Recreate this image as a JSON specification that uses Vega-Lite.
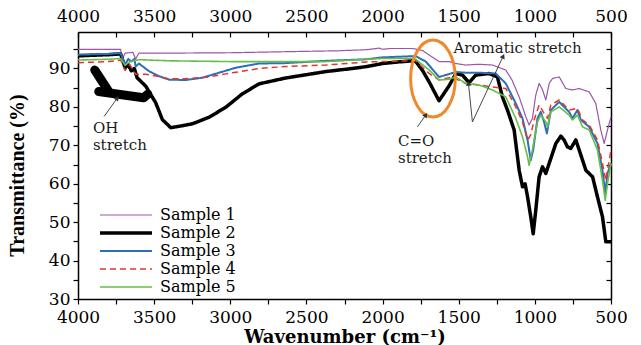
{
  "$schema": "https://vega.github.io/schema/vega-lite/v6.json",
  "width": 533,
  "height": 267,
  "autosize": {"type": "none"},
  "padding": {"left": 78, "top": 32, "right": 30, "bottom": 46},
  "background": "white",
  "config": {
    "view": {"stroke": null},
    "axis": {"grid": false, "domainColor": "black", "domainWidth": 1.5, "tickColor": "black", "tickWidth": 1.2, "labelColor": "black", "labelFont": "DejaVu Serif", "labelFontSize": 17, "titleColor": "black"}
  },
  "datasets": {
    "spectra": [
      {"s": "Sample 1", "wn": 4000, "t": 95.0}, {"s": "Sample 1", "wn": 3800, "t": 95.0}, {"s": "Sample 1", "wn": 3720, "t": 95.0}, {"s": "Sample 1", "wn": 3711, "t": 92.3}, {"s": "Sample 1", "wn": 3690, "t": 94.0}, {"s": "Sample 1", "wn": 3640, "t": 94.2}, {"s": "Sample 1", "wn": 3621, "t": 92.5}, {"s": "Sample 1", "wn": 3600, "t": 94.0}, {"s": "Sample 1", "wn": 3400, "t": 94.0}, {"s": "Sample 1", "wn": 3000, "t": 94.1}, {"s": "Sample 1", "wn": 2600, "t": 94.4}, {"s": "Sample 1", "wn": 2300, "t": 94.6}, {"s": "Sample 1", "wn": 2100, "t": 94.9}, {"s": "Sample 1", "wn": 2023, "t": 95.3}, {"s": "Sample 1", "wn": 2000, "t": 95.0}, {"s": "Sample 1", "wn": 1950, "t": 95.2}, {"s": "Sample 1", "wn": 1804, "t": 95.2}, {"s": "Sample 1", "wn": 1738, "t": 94.7}, {"s": "Sample 1", "wn": 1694, "t": 93.5}, {"s": "Sample 1", "wn": 1629, "t": 91.8}, {"s": "Sample 1", "wn": 1563, "t": 91.8}, {"s": "Sample 1", "wn": 1519, "t": 91.3}, {"s": "Sample 1", "wn": 1454, "t": 90.9}, {"s": "Sample 1", "wn": 1366, "t": 91.1}, {"s": "Sample 1", "wn": 1278, "t": 90.9}, {"s": "Sample 1", "wn": 1191, "t": 89.6}, {"s": "Sample 1", "wn": 1150, "t": 87.0}, {"s": "Sample 1", "wn": 1103, "t": 82.6}, {"s": "Sample 1", "wn": 1059, "t": 77.4}, {"s": "Sample 1", "wn": 1038, "t": 75.3}, {"s": "Sample 1", "wn": 1016, "t": 77.0}, {"s": "Sample 1", "wn": 994, "t": 83.1}, {"s": "Sample 1", "wn": 972, "t": 86.1}, {"s": "Sample 1", "wn": 950, "t": 84.5}, {"s": "Sample 1", "wn": 928, "t": 81.8}, {"s": "Sample 1", "wn": 906, "t": 86.1}, {"s": "Sample 1", "wn": 884, "t": 87.4}, {"s": "Sample 1", "wn": 840, "t": 87.8}, {"s": "Sample 1", "wn": 797, "t": 84.8}, {"s": "Sample 1", "wn": 753, "t": 84.4}, {"s": "Sample 1", "wn": 709, "t": 84.8}, {"s": "Sample 1", "wn": 643, "t": 83.9}, {"s": "Sample 1", "wn": 600, "t": 80.9}, {"s": "Sample 1", "wn": 567, "t": 74.0}, {"s": "Sample 1", "wn": 545, "t": 70.5}, {"s": "Sample 1", "wn": 523, "t": 74.0}, {"s": "Sample 1", "wn": 500, "t": 77.4},
      {"s": "Sample 2", "wn": 4000, "t": 93.3}, {"s": "Sample 2", "wn": 3800, "t": 93.6}, {"s": "Sample 2", "wn": 3720, "t": 93.8}, {"s": "Sample 2", "wn": 3691, "t": 90.2}, {"s": "Sample 2", "wn": 3670, "t": 91.0}, {"s": "Sample 2", "wn": 3650, "t": 89.4}, {"s": "Sample 2", "wn": 3630, "t": 90.0}, {"s": "Sample 2", "wn": 3612, "t": 87.6}, {"s": "Sample 2", "wn": 3555, "t": 85.4}, {"s": "Sample 2", "wn": 3490, "t": 81.1}, {"s": "Sample 2", "wn": 3446, "t": 76.7}, {"s": "Sample 2", "wn": 3391, "t": 74.6}, {"s": "Sample 2", "wn": 3330, "t": 75.0}, {"s": "Sample 2", "wn": 3249, "t": 75.6}, {"s": "Sample 2", "wn": 3140, "t": 77.3}, {"s": "Sample 2", "wn": 3030, "t": 79.9}, {"s": "Sample 2", "wn": 2921, "t": 83.4}, {"s": "Sample 2", "wn": 2811, "t": 86.0}, {"s": "Sample 2", "wn": 2640, "t": 87.5}, {"s": "Sample 2", "wn": 2373, "t": 89.2}, {"s": "Sample 2", "wn": 2200, "t": 90.0}, {"s": "Sample 2", "wn": 2105, "t": 90.5}, {"s": "Sample 2", "wn": 2000, "t": 91.3}, {"s": "Sample 2", "wn": 1900, "t": 91.7}, {"s": "Sample 2", "wn": 1804, "t": 92.0}, {"s": "Sample 2", "wn": 1782, "t": 91.8}, {"s": "Sample 2", "wn": 1738, "t": 89.5}, {"s": "Sample 2", "wn": 1694, "t": 86.5}, {"s": "Sample 2", "wn": 1629, "t": 81.6}, {"s": "Sample 2", "wn": 1563, "t": 85.5}, {"s": "Sample 2", "wn": 1519, "t": 88.7}, {"s": "Sample 2", "wn": 1476, "t": 88.3}, {"s": "Sample 2", "wn": 1432, "t": 86.3}, {"s": "Sample 2", "wn": 1388, "t": 88.3}, {"s": "Sample 2", "wn": 1300, "t": 88.7}, {"s": "Sample 2", "wn": 1246, "t": 87.8}, {"s": "Sample 2", "wn": 1213, "t": 82.6}, {"s": "Sample 2", "wn": 1180, "t": 79.2}, {"s": "Sample 2", "wn": 1136, "t": 74.0}, {"s": "Sample 2", "wn": 1103, "t": 63.5}, {"s": "Sample 2", "wn": 1081, "t": 59.2}, {"s": "Sample 2", "wn": 1064, "t": 60.0}, {"s": "Sample 2", "wn": 1048, "t": 56.6}, {"s": "Sample 2", "wn": 1027, "t": 51.4}, {"s": "Sample 2", "wn": 1011, "t": 47.0}, {"s": "Sample 2", "wn": 994, "t": 53.1}, {"s": "Sample 2", "wn": 972, "t": 61.8}, {"s": "Sample 2", "wn": 950, "t": 64.4}, {"s": "Sample 2", "wn": 928, "t": 62.7}, {"s": "Sample 2", "wn": 906, "t": 65.3}, {"s": "Sample 2", "wn": 862, "t": 70.5}, {"s": "Sample 2", "wn": 829, "t": 72.4}, {"s": "Sample 2", "wn": 808, "t": 71.4}, {"s": "Sample 2", "wn": 786, "t": 69.6}, {"s": "Sample 2", "wn": 764, "t": 69.2}, {"s": "Sample 2", "wn": 731, "t": 71.4}, {"s": "Sample 2", "wn": 709, "t": 68.8}, {"s": "Sample 2", "wn": 665, "t": 63.5}, {"s": "Sample 2", "wn": 621, "t": 61.8}, {"s": "Sample 2", "wn": 589, "t": 56.6}, {"s": "Sample 2", "wn": 556, "t": 51.4}, {"s": "Sample 2", "wn": 534, "t": 44.9}, {"s": "Sample 2", "wn": 500, "t": 44.9},
      {"s": "Sample 3", "wn": 4000, "t": 93.6}, {"s": "Sample 3", "wn": 3800, "t": 93.8}, {"s": "Sample 3", "wn": 3720, "t": 94.0}, {"s": "Sample 3", "wn": 3691, "t": 91.0}, {"s": "Sample 3", "wn": 3670, "t": 92.5}, {"s": "Sample 3", "wn": 3650, "t": 91.8}, {"s": "Sample 3", "wn": 3630, "t": 92.5}, {"s": "Sample 3", "wn": 3621, "t": 90.5}, {"s": "Sample 3", "wn": 3600, "t": 91.3}, {"s": "Sample 3", "wn": 3534, "t": 89.3}, {"s": "Sample 3", "wn": 3468, "t": 88.0}, {"s": "Sample 3", "wn": 3402, "t": 87.1}, {"s": "Sample 3", "wn": 3293, "t": 87.0}, {"s": "Sample 3", "wn": 3183, "t": 87.6}, {"s": "Sample 3", "wn": 3074, "t": 88.9}, {"s": "Sample 3", "wn": 2964, "t": 90.2}, {"s": "Sample 3", "wn": 2811, "t": 91.3}, {"s": "Sample 3", "wn": 2640, "t": 91.4}, {"s": "Sample 3", "wn": 2373, "t": 92.0}, {"s": "Sample 3", "wn": 2105, "t": 92.4}, {"s": "Sample 3", "wn": 2000, "t": 92.9}, {"s": "Sample 3", "wn": 1804, "t": 93.2}, {"s": "Sample 3", "wn": 1782, "t": 93.2}, {"s": "Sample 3", "wn": 1716, "t": 91.8}, {"s": "Sample 3", "wn": 1629, "t": 87.8}, {"s": "Sample 3", "wn": 1585, "t": 88.3}, {"s": "Sample 3", "wn": 1519, "t": 89.1}, {"s": "Sample 3", "wn": 1454, "t": 88.9}, {"s": "Sample 3", "wn": 1366, "t": 88.9}, {"s": "Sample 3", "wn": 1257, "t": 88.7}, {"s": "Sample 3", "wn": 1191, "t": 86.1}, {"s": "Sample 3", "wn": 1125, "t": 80.9}, {"s": "Sample 3", "wn": 1081, "t": 77.0}, {"s": "Sample 3", "wn": 1048, "t": 71.4}, {"s": "Sample 3", "wn": 1027, "t": 66.1}, {"s": "Sample 3", "wn": 1011, "t": 68.8}, {"s": "Sample 3", "wn": 983, "t": 77.0}, {"s": "Sample 3", "wn": 961, "t": 78.7}, {"s": "Sample 3", "wn": 939, "t": 76.0}, {"s": "Sample 3", "wn": 921, "t": 73.1}, {"s": "Sample 3", "wn": 895, "t": 79.2}, {"s": "Sample 3", "wn": 840, "t": 81.3}, {"s": "Sample 3", "wn": 808, "t": 80.0}, {"s": "Sample 3", "wn": 775, "t": 78.7}, {"s": "Sample 3", "wn": 753, "t": 77.0}, {"s": "Sample 3", "wn": 720, "t": 79.2}, {"s": "Sample 3", "wn": 698, "t": 76.6}, {"s": "Sample 3", "wn": 643, "t": 74.8}, {"s": "Sample 3", "wn": 589, "t": 70.5}, {"s": "Sample 3", "wn": 556, "t": 63.5}, {"s": "Sample 3", "wn": 538, "t": 57.5}, {"s": "Sample 3", "wn": 523, "t": 62.7}, {"s": "Sample 3", "wn": 500, "t": 65.3},
      {"s": "Sample 4", "wn": 4000, "t": 91.5}, {"s": "Sample 4", "wn": 3800, "t": 91.8}, {"s": "Sample 4", "wn": 3720, "t": 92.2}, {"s": "Sample 4", "wn": 3691, "t": 89.5}, {"s": "Sample 4", "wn": 3660, "t": 91.0}, {"s": "Sample 4", "wn": 3621, "t": 88.5}, {"s": "Sample 4", "wn": 3555, "t": 88.5}, {"s": "Sample 4", "wn": 3468, "t": 87.9}, {"s": "Sample 4", "wn": 3402, "t": 87.3}, {"s": "Sample 4", "wn": 3300, "t": 87.3}, {"s": "Sample 4", "wn": 3140, "t": 87.8}, {"s": "Sample 4", "wn": 3030, "t": 88.6}, {"s": "Sample 4", "wn": 2921, "t": 89.3}, {"s": "Sample 4", "wn": 2811, "t": 90.0}, {"s": "Sample 4", "wn": 2640, "t": 90.5}, {"s": "Sample 4", "wn": 2373, "t": 90.9}, {"s": "Sample 4", "wn": 2105, "t": 91.7}, {"s": "Sample 4", "wn": 2000, "t": 91.8}, {"s": "Sample 4", "wn": 1804, "t": 92.0}, {"s": "Sample 4", "wn": 1782, "t": 92.0}, {"s": "Sample 4", "wn": 1694, "t": 88.7}, {"s": "Sample 4", "wn": 1629, "t": 87.0}, {"s": "Sample 4", "wn": 1563, "t": 87.6}, {"s": "Sample 4", "wn": 1519, "t": 87.3}, {"s": "Sample 4", "wn": 1454, "t": 86.1}, {"s": "Sample 4", "wn": 1366, "t": 85.7}, {"s": "Sample 4", "wn": 1278, "t": 85.2}, {"s": "Sample 4", "wn": 1191, "t": 84.8}, {"s": "Sample 4", "wn": 1125, "t": 80.0}, {"s": "Sample 4", "wn": 1081, "t": 76.1}, {"s": "Sample 4", "wn": 1048, "t": 71.4}, {"s": "Sample 4", "wn": 1027, "t": 72.7}, {"s": "Sample 4", "wn": 1005, "t": 76.6}, {"s": "Sample 4", "wn": 972, "t": 80.5}, {"s": "Sample 4", "wn": 939, "t": 78.3}, {"s": "Sample 4", "wn": 917, "t": 77.0}, {"s": "Sample 4", "wn": 895, "t": 80.5}, {"s": "Sample 4", "wn": 840, "t": 81.8}, {"s": "Sample 4", "wn": 775, "t": 79.2}, {"s": "Sample 4", "wn": 720, "t": 79.6}, {"s": "Sample 4", "wn": 687, "t": 76.6}, {"s": "Sample 4", "wn": 643, "t": 75.3}, {"s": "Sample 4", "wn": 589, "t": 71.4}, {"s": "Sample 4", "wn": 560, "t": 66.1}, {"s": "Sample 4", "wn": 534, "t": 60.9}, {"s": "Sample 4", "wn": 500, "t": 68.8},
      {"s": "Sample 5", "wn": 4000, "t": 92.2}, {"s": "Sample 5", "wn": 3800, "t": 92.4}, {"s": "Sample 5", "wn": 3720, "t": 92.6}, {"s": "Sample 5", "wn": 3691, "t": 90.8}, {"s": "Sample 5", "wn": 3660, "t": 91.8}, {"s": "Sample 5", "wn": 3600, "t": 92.3}, {"s": "Sample 5", "wn": 3400, "t": 92.0}, {"s": "Sample 5", "wn": 3000, "t": 91.8}, {"s": "Sample 5", "wn": 2600, "t": 91.8}, {"s": "Sample 5", "wn": 2373, "t": 91.8}, {"s": "Sample 5", "wn": 2105, "t": 92.4}, {"s": "Sample 5", "wn": 2000, "t": 92.6}, {"s": "Sample 5", "wn": 1804, "t": 92.6}, {"s": "Sample 5", "wn": 1782, "t": 92.4}, {"s": "Sample 5", "wn": 1694, "t": 89.6}, {"s": "Sample 5", "wn": 1629, "t": 87.0}, {"s": "Sample 5", "wn": 1563, "t": 87.2}, {"s": "Sample 5", "wn": 1519, "t": 87.8}, {"s": "Sample 5", "wn": 1454, "t": 86.1}, {"s": "Sample 5", "wn": 1366, "t": 85.7}, {"s": "Sample 5", "wn": 1278, "t": 84.4}, {"s": "Sample 5", "wn": 1191, "t": 82.6}, {"s": "Sample 5", "wn": 1125, "t": 77.0}, {"s": "Sample 5", "wn": 1081, "t": 72.2}, {"s": "Sample 5", "wn": 1048, "t": 67.0}, {"s": "Sample 5", "wn": 1038, "t": 64.8}, {"s": "Sample 5", "wn": 1016, "t": 68.8}, {"s": "Sample 5", "wn": 983, "t": 76.1}, {"s": "Sample 5", "wn": 961, "t": 77.9}, {"s": "Sample 5", "wn": 928, "t": 76.1}, {"s": "Sample 5", "wn": 917, "t": 74.8}, {"s": "Sample 5", "wn": 895, "t": 78.7}, {"s": "Sample 5", "wn": 840, "t": 80.0}, {"s": "Sample 5", "wn": 775, "t": 77.9}, {"s": "Sample 5", "wn": 753, "t": 76.6}, {"s": "Sample 5", "wn": 720, "t": 77.9}, {"s": "Sample 5", "wn": 687, "t": 74.8}, {"s": "Sample 5", "wn": 643, "t": 74.0}, {"s": "Sample 5", "wn": 589, "t": 68.8}, {"s": "Sample 5", "wn": 556, "t": 60.9}, {"s": "Sample 5", "wn": 538, "t": 55.7}, {"s": "Sample 5", "wn": 523, "t": 60.0}, {"s": "Sample 5", "wn": 500, "t": 65.3}
    ],
    "ellipse": [{"wn": 1669, "t": 87.4}],
    "texts": [
      {"label": "OH", "wn": 3902, "t": 74.5},
      {"label": "stretch", "wn": 3902, "t": 70.1},
      {"label": "C=O", "wn": 1899, "t": 71.2},
      {"label": "stretch", "wn": 1899, "t": 66.7},
      {"label": "Aromatic stretch", "wn": 1534, "t": 95.3}
    ],
    "arrows": [
      {"wn": 3829, "t": 77.5, "wn2": 3742, "t2": 82.3},
      {"wn": 1771, "t": 74.8, "wn2": 1716, "t2": 77.9},
      {"wn": 1410, "t": 76.1, "wn2": 1436, "t2": 86.1},
      {"wn": 1410, "t": 76.1, "wn2": 1208, "t2": 93.2}
    ],
    "blob": [
      {"seg": "a", "i": 0, "wn": 3890, "t": 89.6},
      {"seg": "a", "i": 1, "wn": 3795, "t": 83.8},
      {"seg": "b", "i": 0, "wn": 3864, "t": 84.0},
      {"seg": "b", "i": 1, "wn": 3700, "t": 83.1},
      {"seg": "b", "i": 2, "wn": 3569, "t": 82.4},
      {"seg": "b", "i": 3, "wn": 3542, "t": 83.3}
    ]
  },
  "layer": [
    {
      "data": {"name": "spectra"},
      "mark": {"type": "line", "strokeJoin": "round"},
      "encoding": {
        "x": {"field": "wn", "type": "quantitative",
          "scale": {"domain": [500, 4000], "reverse": true, "nice": false, "zero": false},
          "axis": {"orient": "bottom", "values": [4000, 3750, 3500, 3250, 3000, 2750, 2500, 2250, 2000, 1750, 1500, 1250, 1000, 750, 500], "labelExpr": "datum.value % 500 == 0 ? datum.label : ''", "format": "d", "tickSize": 5, "labelPadding": 5, "labelFlush": false, "labelOverlap": false, "title": "Wavenumber (cm⁻¹)", "titleFont": "DejaVu Serif", "titleFontWeight": "bold", "titleFontSize": 18, "titleY": 38, "titleBaseline": "middle"}},
        "y": {"field": "t", "type": "quantitative",
          "scale": {"domain": [30, 99.5], "nice": false, "zero": false},
          "axis": {"orient": "left", "values": [30, 35, 40, 45, 50, 55, 60, 65, 70, 75, 80, 85, 90, 95], "labelExpr": "datum.value % 10 == 0 ? datum.label : ''", "tickSize": 5, "labelPadding": 3, "labelOverlap": false, "labelFlush": false, "title": "Transmittance (%)", "titleFont": "Liberation Serif", "titleFontWeight": "bold", "titleFontSize": 20, "titleX": -61, "titleY": 143, "titleAngle": -90, "titleAlign": "center", "titleBaseline": "middle"}},
        "color": {"field": "s", "type": "nominal",
          "scale": {"domain": ["Sample 1", "Sample 2", "Sample 3", "Sample 4", "Sample 5"], "range": ["#9C55A8", "#000000", "#2E6DB8", "#E8342A", "#64BF4A"]},
          "legend": {"orient": "none", "legendX": 20, "legendY": 175, "title": null, "symbolType": "stroke", "symbolSize": 2700, "clipHeight": 16, "rowPadding": 2, "labelFont": "DejaVu Serif", "labelFontSize": 16, "labelColor": "black", "labelOffset": 6, "padding": 0}},
        "strokeDash": {"field": "s", "type": "nominal",
          "scale": {"domain": ["Sample 1", "Sample 2", "Sample 3", "Sample 4", "Sample 5"], "range": [[1, 0], [1, 0], [1, 0], [6, 4], [1, 0]]},
          "legend": {"orient": "none", "legendX": 20, "legendY": 175, "title": null, "symbolType": "stroke", "symbolSize": 2700, "clipHeight": 16, "rowPadding": 2, "labelFont": "DejaVu Serif", "labelFontSize": 16, "labelColor": "black", "labelOffset": 6, "padding": 0}},
        "strokeWidth": {"field": "s", "type": "nominal",
          "scale": {"type": "ordinal", "domain": ["Sample 1", "Sample 2", "Sample 3", "Sample 4", "Sample 5"], "range": [1.2, 3.5, 2, 1.5, 1.6]},
          "legend": {"orient": "none", "legendX": 20, "legendY": 175, "title": null, "symbolType": "stroke", "symbolSize": 2700, "clipHeight": 16, "rowPadding": 2, "labelFont": "DejaVu Serif", "labelFontSize": 16, "labelColor": "black", "labelOffset": 6, "padding": 0}}
      }
    },
    {
      "data": {"name": "ellipse"},
      "mark": {"type": "point", "shape": "M -0.58 0 A 0.58 1 0 1 1 0.58 0 A 0.58 1 0 1 1 -0.58 0 Z", "size": 5929, "filled": false, "stroke": "#F0882C", "strokeWidth": 3, "opacity": 1},
      "encoding": {
        "x": {"field": "wn", "type": "quantitative",
          "axis": {"orient": "top", "values": [4000, 3750, 3500, 3250, 3000, 2750, 2500, 2250, 2000, 1750, 1500, 1250, 1000, 750, 500], "labelExpr": "datum.value % 500 == 0 ? datum.label : ''", "format": "d", "tickSize": -5, "labelPadding": 12, "labelFlush": false, "labelOverlap": false, "title": null}},
        "y": {"field": "t", "type": "quantitative",
          "axis": {"orient": "right", "values": [30, 35, 40, 45, 50, 55, 60, 65, 70, 75, 80, 85, 90, 95], "labels": false, "tickSize": -5, "title": null}}
      }
    },
    {
      "data": {"name": "blob"},
      "mark": {"type": "line", "color": "black", "strokeWidth": 9, "strokeCap": "round", "strokeJoin": "round"},
      "encoding": {
        "x": {"field": "wn", "type": "quantitative", "axis": null},
        "y": {"field": "t", "type": "quantitative", "axis": null},
        "detail": {"field": "seg", "type": "nominal"},
        "order": {"field": "i", "type": "quantitative"}
      }
    },
    {
      "data": {"name": "arrows"},
      "mark": {"type": "rule", "color": "#333333", "strokeWidth": 0.9},
      "encoding": {
        "x": {"field": "wn", "type": "quantitative", "axis": null},
        "y": {"field": "t", "type": "quantitative", "axis": null},
        "x2": {"field": "wn2"},
        "y2": {"field": "t2"}
      }
    },
    {
      "data": {"values": [{"wn": 3742, "t": 82.3}]},
      "mark": {"type": "point", "shape": "triangle-up", "filled": true, "color": "#333333", "size": 30, "angle": 36, "opacity": 1},
      "encoding": {"x": {"field": "wn", "type": "quantitative", "axis": null}, "y": {"field": "t", "type": "quantitative", "axis": null}}
    },
    {
      "data": {"values": [{"wn": 1716, "t": 77.9}]},
      "mark": {"type": "point", "shape": "triangle-up", "filled": true, "color": "#333333", "size": 30, "angle": 35, "opacity": 1},
      "encoding": {"x": {"field": "wn", "type": "quantitative", "axis": null}, "y": {"field": "t", "type": "quantitative", "axis": null}}
    },
    {
      "data": {"values": [{"wn": 1436, "t": 86.1}]},
      "mark": {"type": "point", "shape": "triangle-up", "filled": true, "color": "#333333", "size": 30, "angle": -6, "opacity": 1},
      "encoding": {"x": {"field": "wn", "type": "quantitative", "axis": null}, "y": {"field": "t", "type": "quantitative", "axis": null}}
    },
    {
      "data": {"values": [{"wn": 1208, "t": 93.2}]},
      "mark": {"type": "point", "shape": "triangle-up", "filled": true, "color": "#333333", "size": 30, "angle": 25, "opacity": 1},
      "encoding": {"x": {"field": "wn", "type": "quantitative", "axis": null}, "y": {"field": "t", "type": "quantitative", "axis": null}}
    },
    {
      "data": {"name": "texts"},
      "mark": {"type": "text", "align": "left", "baseline": "middle", "font": "DejaVu Serif", "fontSize": 15, "color": "#1a1a1a"},
      "encoding": {
        "x": {"field": "wn", "type": "quantitative", "axis": null},
        "y": {"field": "t", "type": "quantitative", "axis": null},
        "text": {"field": "label"}
      }
    }
  ],
  "resolve": {"axis": {"x": "independent", "y": "independent"}}
}
